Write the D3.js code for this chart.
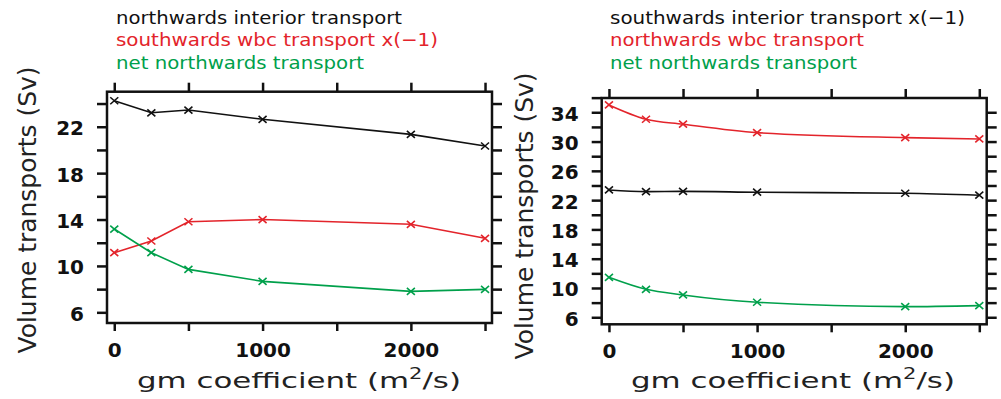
<!DOCTYPE html>
<html>
<head>
<meta charset="utf-8">
<script src="https://cdn.jsdelivr.net/npm/d3@7"></script>
<style>
  body { margin: 0; background: #fff; }
  text { font-family: "DejaVu Sans", sans-serif; }
  .tick line { stroke: #111; stroke-width: 2.5; }
</style>
</head>
<body>
<svg id="chart"></svg>
<script>
// 1. Data
    const gm = [0, 250, 500, 1000, 2000, 2500];

    // left panel
    const leftInterior = [24.24, 23.2, 23.44, 22.64, 21.34, 20.34];
    const leftWbc      = [11.14, 12.15, 13.81, 14.0, 13.59, 12.38];
    const leftNet      = [13.18, 11.14, 9.7, 8.67, 7.81, 7.98];
    const leftLegend   = ['northwards interior transport', 'southwards wbc transport x(\u22121)', 'net northwards transport'];
    const leftYTicks   = [6, 8, 10, 12, 14, 16, 18, 20, 22, 24];
    const leftYLabels  = [6, 10, 14, 18, 22];

    // right panel
    const rightInterior = [23.39, 23.16, 23.2, 23.08, 22.94, 22.67];
    const rightWbc      = [35.0, 33.05, 32.37, 31.22, 30.54, 30.36];
    const rightNet      = [11.46, 9.82, 9.05, 8.05, 7.45, 7.59];
    const rightLegend   = ['southwards interior transport x(\u22121)', 'northwards wbc transport', 'net northwards transport'];
    const rightYTicks   = [6, 8, 10, 12, 14, 16, 18, 20, 22, 24, 26, 28, 30, 32, 34, 36];
    const rightYLabels  = [6, 10, 14, 18, 22, 26, 30, 34];

    const xTicks  = [0, 500, 1000, 1500, 2000, 2500];
    const xLabels = [0, 1000, 2000];
    const colors  = ['#111111', '#e3242b', '#00a04b'];
    const yTitle  = 'Volume transports (Sv)';

// 2. SVG canvas
    const width = 1001;
    const height = 399;

    const svg = d3.select('#chart')
        .attr('width', width)
        .attr('height', height);

    const panels = [
        {
            series: [leftInterior, leftWbc, leftNet],
            legend: leftLegend,
            legendX: 116, legendW: [286, 322, 248],
            xDomain: [-49, 2547], xRange: [107, 492],
            yDomain: [5.08, 25.02], yRange: [323, 91.7],
            yTicks: leftYTicks, yLabels: leftYLabels,
            yTitleX: 36, yTitleY: 210,
            xTitleX: 299,
            curve: d3.curveLinear
        },
        {
            series: [rightInterior, rightWbc, rightNet],
            legend: rightLegend,
            legendX: 610, legendW: [355, 254, 247],
            xDomain: [-49, 2550], xRange: [601.7, 986.7],
            yDomain: [5.04, 35.95], yRange: [324.3, 98],
            yTicks: rightYTicks, yLabels: rightYLabels,
            yTitleX: 533, yTitleY: 216,
            xTitleX: 793,
            curve: d3.curveMonotoneX
        }
    ];

// 3. Draw each panel
    panels.forEach(drawPanel);

    function styleTicks(g, dy) {
        g.selectAll('.tick text')
            .attr('font-family', '"DejaVu Sans", sans-serif')
            .attr('font-weight', 'bold')
            .attr('font-size', 20)
            .attr('fill', '#111')
            .attr('dy', dy);
    }

    function drawPanel(p) {
        const xScale = d3.scaleLinear().domain(p.xDomain).range(p.xRange);
        const yScale = d3.scaleLinear().domain(p.yDomain).range(p.yRange);

        const left = p.xRange[0], right = p.xRange[1];
        const top = p.yRange[1], bottom = p.yRange[0];

        // axes (ticks point outward on all four sides)
        const yFmt = (d) => p.yLabels.includes(d) ? d : '';
        const xFmt = (d) => xLabels.includes(d) ? d : '';

        const gl = svg.append('g')
            .attr('transform', `translate(${left},0)`)
            .call(d3.axisLeft(yScale).tickValues(p.yTicks).tickSize(10).tickPadding(13).tickFormat(yFmt));
        svg.append('g')
            .attr('transform', `translate(${right},0)`)
            .call(d3.axisRight(yScale).tickValues(p.yTicks.filter(d => d <= p.yDomain[1] - 0.5)).tickSize(10).tickFormat(''));
        svg.append('g')
            .attr('transform', `translate(0,${top})`)
            .call(d3.axisTop(xScale).tickValues(xTicks).tickSize(9).tickFormat(''));
        const gb = svg.append('g')
            .attr('transform', `translate(0,${bottom})`)
            .call(d3.axisBottom(xScale).tickValues(xTicks).tickSize(8).tickPadding(10).tickFormat(xFmt));

        svg.selectAll('.domain').remove();
        styleTicks(gl, '0.4em');
        styleTicks(gb, '0.78em');

        // frame
        svg.append('rect')
            .attr('x', left).attr('y', top)
            .attr('width', right - left).attr('height', bottom - top)
            .attr('fill', 'none')
            .attr('stroke', '#111')
            .attr('stroke-width', 2.5);

        // lines and x markers
        const line = d3.line()
            .x((d, i) => xScale(gm[i]))
            .y((d) => yScale(d))
            .curve(p.curve);

        p.series.forEach((vals, k) => {
            svg.append('path')
                .datum(vals)
                .attr('fill', 'none')
                .attr('stroke', colors[k])
                .attr('stroke-width', 1.6)
                .attr('d', line);

            svg.selectAll(null)
                .data(vals)
                .enter()
                .append('path')
                    .attr('transform', (d, i) => `translate(${xScale(gm[i])},${yScale(d)})`)
                    .attr('d', 'M-4,-3.5L4,3.5M-4,3.5L4,-3.5')
                    .attr('stroke', colors[k])
                    .attr('stroke-width', 1.6);
        });

        // legend lines above the plot
        p.legend.forEach((txt, k) => {
            svg.append('text')
                .attr('x', p.legendX)
                .attr('y', 23.5 + k * 22.8)
                .attr('fill', colors[k])
                .attr('font-size', 18)
                .attr('textLength', p.legendW[k])
                .attr('lengthAdjust', 'spacingAndGlyphs')
                .text(txt);
        });

        // y axis title
        svg.append('text')
            .attr('transform', `translate(${p.yTitleX},${p.yTitleY}) rotate(-90)`)
            .attr('text-anchor', 'middle')
            .attr('fill', '#222')
            .attr('font-size', 25)
            .attr('textLength', 287)
            .attr('lengthAdjust', 'spacingAndGlyphs')
            .text(yTitle);

        // x axis title with superscript
        const xt = svg.append('text')
            .attr('x', p.xTitleX)
            .attr('y', 388)
            .attr('text-anchor', 'middle')
            .attr('fill', '#222')
            .attr('font-size', 22)
            .attr('textLength', 324)
            .attr('lengthAdjust', 'spacingAndGlyphs');
        xt.append('tspan').text('gm coefficient (m');
        xt.append('tspan').attr('dy', -9).attr('font-size', 15).text('2');
        xt.append('tspan').attr('dy', 9).text('/s)');
    }
</script>
</body>
</html>
